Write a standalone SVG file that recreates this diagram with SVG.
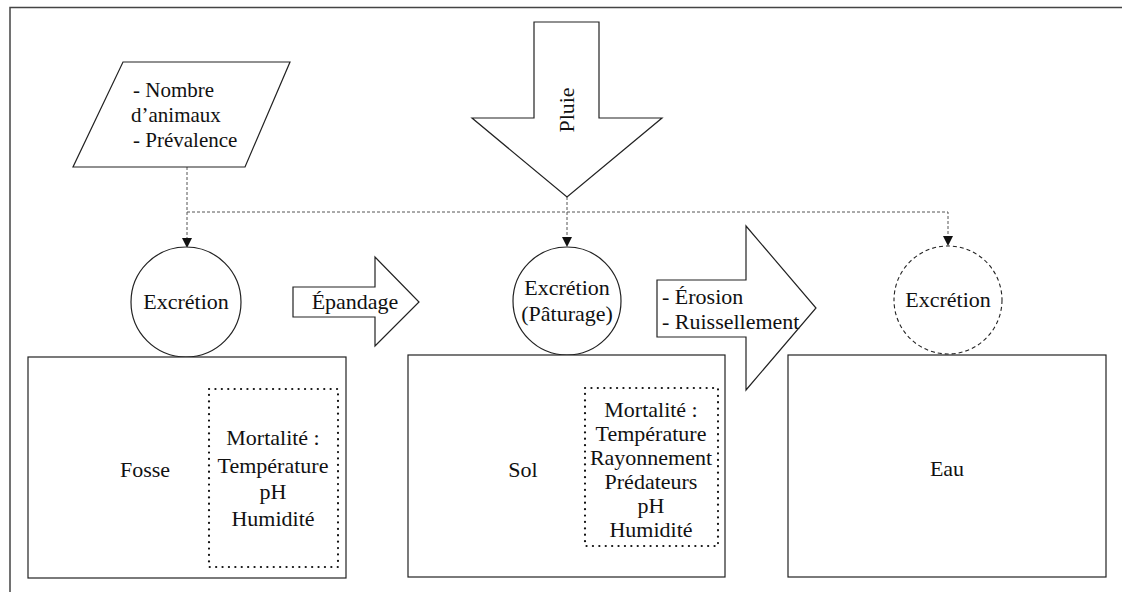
<svg xmlns="http://www.w3.org/2000/svg" width="1122" height="592" viewBox="0 0 1122 592">
<defs>
<style>
.t{font-family:'Liberation Serif','DejaVu Serif',serif;font-size:22px;fill:#111;}
.s{font-size:21px;}
.c{text-anchor:middle;}
.sh{fill:#fff;stroke:#222;stroke-width:1.2;}
.dot{fill:none;stroke:#111;stroke-width:2.2;stroke-dasharray:0.1,6.3;stroke-linecap:round;}
.con{fill:none;stroke:#555;stroke-width:1;stroke-dasharray:3,2;}
</style>
<marker id="ah" markerWidth="10" markerHeight="10" refX="9" refY="5" orient="auto" markerUnits="userSpaceOnUse">
<path d="M0,0 L10,5 L0,10 Z" fill="#111"/>
</marker>
</defs>
<rect width="1122" height="592" fill="#fff"/>
<g id="frame" stroke="#444" stroke-width="1.5" fill="none">
<path d="M10,592 L10,7.5 L1122,7.5"/>
</g>
<g id="connectors">
<path class="con" d="M187,167 L187,247" marker-end="url(#ah)"/>
<path class="con" d="M187,212 L948,212 L948,245" marker-end="url(#ah)"/>
<path class="con" d="M567,197 L567,246" marker-end="url(#ah)"/>
</g>
<g font-family="Liberation Serif, DejaVu Serif, serif">
<g id="input">
<polygon class="sh" points="123,62 290,62 245,167 73,167"/>
<text class="t s" x="133" y="97">- Nombre</text>
<text class="t s" x="131" y="122">d’animaux</text>
<text class="t s" x="133" y="147">- Prévalence</text>
</g>
<g id="pluie">
<polygon class="sh" points="534,22 599,22 599,118 662,118 567,197 472,118 534,118"/>
<text class="t c" transform="translate(574,110) rotate(-90)">Pluie</text>
</g>
<g id="excretion1">
<circle class="sh" cx="186" cy="302" r="55"/>
<text class="t c" x="186" y="309">Excrétion</text>
</g>
<g id="epandage">
<polygon class="sh" points="293,287 375,287 375,257 419,302 375,346 375,317 293,317"/>
<text class="t c" x="355" y="309">Épandage</text>
</g>
<g id="excretion2">
<circle class="sh" cx="567" cy="301" r="54"/>
<text class="t c" x="567" y="295">Excrétion</text>
<text class="t c" x="567" y="321">(Pâturage)</text>
</g>
<g id="erosion">
<polygon class="sh" points="657,280 746,280 746,226 816,308 746,390 746,337 657,337"/>
<text class="t" x="662" y="304">- Érosion</text>
<text class="t" x="662" y="329">- Ruissellement</text>
</g>
<g id="excretion3">
<circle cx="948" cy="300" r="54" fill="#fff" stroke="#222" stroke-width="1.1" stroke-dasharray="4,3"/>
<text class="t c" x="948" y="307">Excrétion</text>
</g>
<g id="fosse">
<rect class="sh" x="28" y="357" width="318" height="221"/>
<text class="t c" x="145" y="477">Fosse</text>
<rect class="dot" x="209" y="389" width="129" height="178"/>
<text class="t c" x="273" y="445">Mortalité :</text>
<text class="t c" x="273" y="473">Température</text>
<text class="t c" x="273" y="499">pH</text>
<text class="t c" x="273" y="526">Humidité</text>
</g>
<g id="sol">
<rect class="sh" x="408" y="355" width="317" height="222"/>
<text class="t c" x="523" y="477">Sol</text>
<rect class="dot" x="585" y="388" width="133" height="158"/>
<text class="t c" x="651" y="417">Mortalité :</text>
<text class="t c" x="651" y="441">Température</text>
<text class="t c" x="651" y="465">Rayonnement</text>
<text class="t c" x="651" y="489">Prédateurs</text>
<text class="t c" x="651" y="513">pH</text>
<text class="t c" x="651" y="537">Humidité</text>
</g>
<g id="eau">
<rect class="sh" x="788" y="355" width="318" height="222"/>
<text class="t c" x="947" y="476">Eau</text>
</g>
</g>
</svg>
